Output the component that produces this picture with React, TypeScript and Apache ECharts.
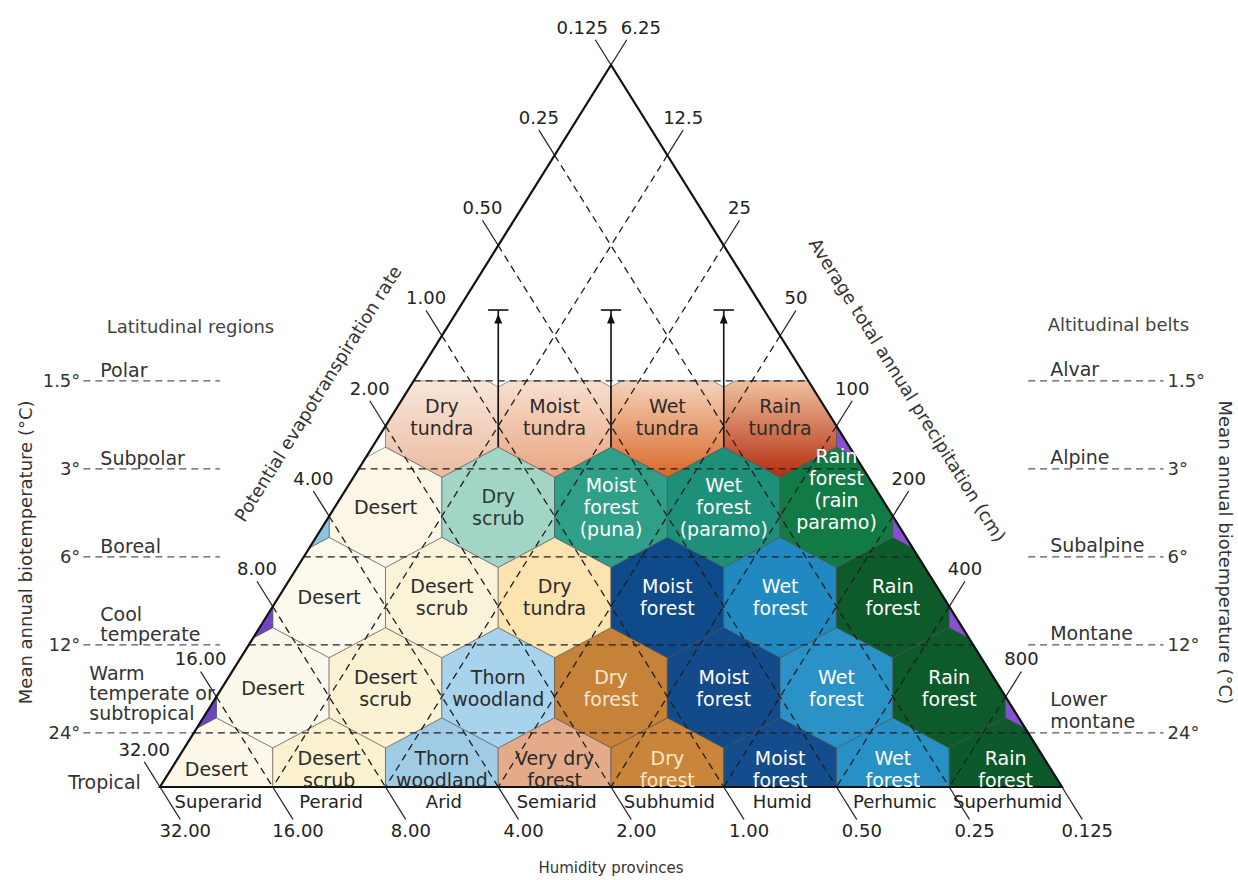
import React, { useEffect, useRef } from "react";
import * as echarts from "echarts";

type P = [number, number];

// ---------------- data ----------------
const humidityProvinces = ["Superarid", "Perarid", "Arid", "Semiarid", "Subhumid", "Humid", "Perhumic", "Superhumid"];
// potential evapotranspiration ratio: left edge (bottom -> apex) and base (left -> right)
const petRatioTicks = ["32.00", "16.00", "8.00", "4.00", "2.00", "1.00", "0.50", "0.25", "0.125"];
// average total annual precipitation (cm): right edge, index = height step (0 unlabeled)
const precipitationTicks = ["", "800", "400", "200", "100", "50", "25", "12.5", "6.25"];
const biotemperatureBelts = ["24°", "12°", "6°", "3°", "1.5°"];
const latitudinalRegions = ["Warm\ntemperate or\nsubtropical", "Cool\ntemperate", "Boreal", "Subpolar", "Polar"];
const altitudinalBelts = ["Lower\nmontane", "Montane", "Subalpine", "Alpine", "Alvar"];
const basalRegion = "Tropical";

const tropicalZones = ["Desert", "Desert\nscrub", "Thorn\nwoodland", "Very dry\nforest", "Dry\nforest", "Moist\nforest", "Wet\nforest", "Rain\nforest"];
const warmTemperateZones = ["Desert", "Desert\nscrub", "Thorn\nwoodland", "Dry\nforest", "Moist\nforest", "Wet\nforest", "Rain\nforest"];
const coolTemperateZones = ["Desert", "Desert\nscrub", "Dry\ntundra", "Moist\nforest", "Wet\nforest", "Rain\nforest"];
const borealZones = ["Desert", "Dry\nscrub", "Moist\nforest\n(puna)", "Wet\nforest\n(paramo)", "Rain\nforest\n(rain\nparamo)"];
const subpolarZones = ["Dry\ntundra", "Moist\ntundra", "Wet\ntundra", "Rain\ntundra"];
const zoneRows = [tropicalZones, warmTemperateZones, coolTemperateZones, borealZones, subpolarZones];

// ---------------- styles ----------------
const zoneFills: (string | string[])[][] = [
  ["#fdf8ea", "#fbf1cf", "#9fcbe5", "#e4ab8a", "#c9853a", "#134d8d", "#2790c5", "#0c5a2b"],
  ["#fdf8ec", "#fbf2d4", "#a8d3ec", "#c58238", "#134b8a", "#2a92c7", "#0d5a2b"],
  ["#fdf9ec", "#fbf3d8", "#fbe4b0", "#0f4a8a", "#2089c2", "#0d5a2b"],
  ["#fcf6e6", "#a3d5c7", "#2f9f88", "#1e9079", "#127a45"],
  [["#f8e6da", "#ebbb9f"], ["#f7dfcf", "#e9a47f"], ["#f5d3bb", "#d9682a"], ["#f0c09e", "#b22e0e"]],
];
const DARK = "#2b2b2b";
const zoneTextColors = [
  [DARK, DARK, DARK, DARK, "#fbe8cc", "#ffffff", "#ffffff", "#ffffff"],
  [DARK, DARK, DARK, "#fbe8cc", "#ffffff", "#ffffff", "#ffffff"],
  [DARK, DARK, DARK, "#ffffff", "#ffffff", "#ffffff"],
  [DARK, "#2b3a35", "#ffffff", "#ffffff", "#ffffff"],
  [DARK, DARK, DARK, DARK],
];
const edgeLeftFills: (string | null)[] = [null, "#6f45c4", "#6f45c4", "#8dc4e2", null];
const edgeRightFills: (string | null)[] = [null, "#8650d0", "#8650d0", "#8650d0", "#8650d0"];

const FONT = "DejaVu Sans";

// ---------------- geometry (data units: x = province widths, y = hex rows) ----------------
const BASE = humidityProvinces.length;
const HALF = BASE / 2;
const HEIGHT = petRatioTicks.length - 1;
const ROW_OFFSET = 0.1;
const BELT_START = 0.6;
const BELT_STEP = 0.975;
const beltY = (i: number) => BELT_START + BELT_STEP * i;
const TOP_CLIP = beltY(biotemperatureBelts.length - 1);
const leftEdgeX = (y: number) => (y * HALF) / HEIGHT;
const rightEdgeX = (y: number) => BASE - (y * HALF) / HEIGHT;

const X_MIN = -1.41907, X_MAX = 9.56098, Y_MIN = -1.03047, Y_MAX = 8.72022;

const halfPlanes: ((p: P) => number)[] = [
  (p) => p[1],
  (p) => TOP_CLIP - p[1],
  (p) => p[0] - leftEdgeX(p[1]),
  (p) => rightEdgeX(p[1]) - p[0],
];

function clipPoly(poly: P[]): P[] {
  let out = poly;
  for (const f of halfPlanes) {
    const input = out;
    out = [];
    for (let i = 0; i < input.length; i++) {
      const a = input[i];
      const b = input[(i + 1) % input.length];
      const fa = f(a), fb = f(b);
      if (fa >= 0) out.push(a);
      if ((fa >= 0) !== (fb >= 0)) {
        const t = fa / (fa - fb);
        out.push([a[0] + t * (b[0] - a[0]), a[1] + t * (b[1] - a[1])]);
      }
    }
    if (!out.length) break;
  }
  return out;
}

const hex = (cx: number, cy: number): P[] => [
  [cx, cy + 2 / 3], [cx + 0.5, cy + 1 / 3], [cx + 0.5, cy - 1 / 3],
  [cx, cy - 2 / 3], [cx - 0.5, cy - 1 / 3], [cx - 0.5, cy + 1 / 3],
];

interface Cell { x: number; y: number; fill: string | string[]; label?: string; color?: string; row: number }
const cells: Cell[] = [];
zoneRows.forEach((names, r) => {
  const y = r + ROW_OFFSET;
  const x0 = r / 2 + 0.5;
  names.forEach((name, i) => cells.push({ x: x0 + i, y, fill: zoneFills[r][i], label: name, color: zoneTextColors[r][i], row: r }));
  const lf = edgeLeftFills[r];
  const rf = edgeRightFills[r];
  if (lf) cells.push({ x: x0 - 1, y, fill: lf, row: r });
  if (rf) cells.push({ x: x0 + names.length, y, fill: rf, row: r });
});
const labelCells = cells.filter((c) => c.label);

interface Seg { a: P; b: P; color: string; width: number; dash?: number[] }
const TICK_DY = 0.28;
const TICK_DX = (TICK_DY * HALF) / HEIGHT;
const BTICK_DY = 0.36;
const BTICK_DX = (BTICK_DY * HALF) / HEIGHT;
const OUT_L0 = -0.68, OUT_L1 = 0.53, OUT_R0 = 7.7, OUT_R1 = 8.9;

const dashedSegs: Seg[] = [];
for (let h = 1; h < HEIGHT; h++) {
  dashedSegs.push({ a: [leftEdgeX(h), h], b: [2 * leftEdgeX(h), 0], color: "#1e1e1e", width: 1.3, dash: [7, 5] });
  dashedSegs.push({ a: [rightEdgeX(h), h], b: [BASE - 2 * leftEdgeX(h), 0], color: "#1e1e1e", width: 1.3, dash: [7, 5] });
}
biotemperatureBelts.forEach((_, i) => {
  const y = beltY(i);
  dashedSegs.push({ a: [leftEdgeX(y), y], b: [rightEdgeX(y), y], color: "#1e1e1e", width: 1.3, dash: [7, 5] });
  dashedSegs.push({ a: [OUT_L0, y], b: [Math.min(OUT_L1, leftEdgeX(y)), y], color: "#555", width: 1.2, dash: [7, 5] });
  dashedSegs.push({ a: [Math.max(OUT_R0, rightEdgeX(y)), y], b: [OUT_R1, y], color: "#555", width: 1.2, dash: [7, 5] });
});

const solidSegs: Seg[] = [];
petRatioTicks.forEach((_, h) => {
  solidSegs.push({ a: [leftEdgeX(h), h], b: [leftEdgeX(h) - TICK_DX, h + TICK_DY], color: "#222", width: 1.3 });
  solidSegs.push({ a: [2 * leftEdgeX(h), 0], b: [2 * leftEdgeX(h) + BTICK_DX, -BTICK_DY], color: "#222", width: 1.3 });
});
precipitationTicks.forEach((t, h) => {
  if (!t) return;
  solidSegs.push({ a: [rightEdgeX(h), h], b: [rightEdgeX(h) + TICK_DX, h + TICK_DY], color: "#222", width: 1.3 });
});
// arrows on the tundra boundaries
const ARROW_TOP = 5.285;
const topRow = zoneRows.length - 1;
const arrowXs: number[] = [];
for (let i = 1; i < zoneRows[topRow].length; i++) arrowXs.push(topRow / 2 + 0.5 + i - 0.5);
arrowXs.forEach((x) => {
  solidSegs.push({ a: [x, topRow + ROW_OFFSET - 1 / 3], b: [x, ARROW_TOP], color: "#111", width: 1.6 });
  solidSegs.push({ a: [x - 0.09, ARROW_TOP], b: [x + 0.09, ARROW_TOP], color: "#111", width: 1.6 });
});

interface Note { text: string; p: P; align: string; va: string; size: number; color: string; rot?: number | string; lh?: number; dx?: number; dy?: number }
const notes: Note[] = [];
petRatioTicks.forEach((t, h) => {
  notes.push({ text: t, p: [leftEdgeX(h) - TICK_DX, h + TICK_DY], align: "center", va: "bottom", size: 18, color: "#222", dx: h === HEIGHT ? -13 : 0, dy: -2 });
  notes.push({ text: t, p: [2 * leftEdgeX(h) + BTICK_DX, -BTICK_DY], align: "center", va: "top", size: 18, color: "#222", dx: 5, dy: 1 });
});
precipitationTicks.forEach((t, h) => {
  if (!t) return;
  notes.push({ text: t, p: [rightEdgeX(h) + TICK_DX, h + TICK_DY], align: "center", va: "bottom", size: 18, color: "#222", dx: h === HEIGHT ? 14 : 0, dy: -2 });
});
humidityProvinces.forEach((t, i) => {
  notes.push({ text: t, p: [i + 0.5, -0.166], align: "center", va: "middle", size: 18, color: "#222", dx: 2 });
});
biotemperatureBelts.forEach((t, i) => {
  const y = beltY(i);
  notes.push({ text: t, p: [OUT_L0, y], align: "right", va: "middle", size: 18, color: "#333", dx: -3 });
  notes.push({ text: t, p: [OUT_R1, y], align: "left", va: "middle", size: 18, color: "#333", dx: 4 });
  const multi = latitudinalRegions[i].split("\n").length > 2;
  notes.push({ text: latitudinalRegions[i], p: [OUT_L0, y], align: "left", va: "bottom", size: 19, color: "#333", lh: 20, dx: multi ? 6 : 17, dy: multi ? -10 : -1 });
  notes.push({ text: altitudinalBelts[i], p: [OUT_R0, y], align: "left", va: "bottom", size: 19, color: "#333", lh: 22, dx: 22, dy: -1 });
});
notes.push({ text: basalRegion, p: [OUT_L0, 0.055], align: "left", va: "middle", size: 19, color: "#333", dx: -15 });
notes.push({ text: "Latitudinal regions", p: [0.27, 5.1], align: "center", va: "middle", size: 18, color: "#444" });
notes.push({ text: "Altitudinal belts", p: [8.5, 5.12], align: "center", va: "middle", size: 18, color: "#444" });
notes.push({ text: "Humidity provinces", p: [HALF, -0.9], align: "center", va: "middle", size: 15, color: "#333" });
notes.push({ text: "Potential evapotranspiration rate", p: [1.4, 4.36], align: "center", va: "middle", size: 18, color: "#333", rot: "left" });
notes.push({ text: "Average total annual precipitation (cm)", p: [6.63, 4.4], align: "center", va: "middle", size: 18, color: "#333", rot: "right" });
notes.push({ text: "Mean annual biotemperature (°C)", p: [-1.19, 2.6], align: "center", va: "middle", size: 18, color: "#333", rot: Math.PI / 2 });
notes.push({ text: "Mean annual biotemperature (°C)", p: [9.446, 2.6], align: "center", va: "middle", size: 18, color: "#333", rot: -Math.PI / 2 });

function fillOf(f: string | string[]) {
  if (Array.isArray(f)) {
    return new echarts.graphic.LinearGradient(0, 0, 0, 1, [
      { offset: 0, color: f[0] },
      { offset: 1, color: f[1] },
    ]);
  }
  return f;
}

function segEl(api: any, s: Seg) {
  const a = api.coord(s.a), b = api.coord(s.b);
  return {
    type: "line",
    shape: { x1: a[0], y1: a[1], x2: b[0], y2: b[1] },
    style: { stroke: s.color, lineWidth: s.width, lineDash: s.dash || null },
  };
}

function buildOption(): any {
  return {
    animation: false,
    backgroundColor: "#ffffff",
    grid: { left: 0, right: 0, top: 0, bottom: 0, containLabel: false, outerBoundsMode: "none" },
    xAxis: { type: "value", min: X_MIN, max: X_MAX, show: false },
    yAxis: { type: "value", min: Y_MIN, max: Y_MAX, show: false },
    series: [
      {
        type: "custom", name: "zones", coordinateSystem: "cartesian2d", z: 1, clip: false, silent: true,
        data: cells.map((c) => [c.x, c.y]),
        renderItem: (params: any, api: any) => {
          const c = cells[params.dataIndex];
          const poly = clipPoly(hex(c.x, c.y));
          if (poly.length < 3) return { type: "group", children: [] };
          return {
            type: "polygon",
            shape: { points: poly.map((p) => api.coord(p)) },
            style: { fill: fillOf(c.fill), stroke: "rgba(70,70,70,0.55)", lineWidth: 1 },
          };
        },
      },
      {
        type: "custom", name: "grid", coordinateSystem: "cartesian2d", z: 2, clip: false, silent: true,
        data: dashedSegs.map((s) => [s.a[0], s.a[1]]),
        renderItem: (params: any, api: any) => segEl(api, dashedSegs[params.dataIndex]),
      },
      {
        type: "custom", name: "frame", coordinateSystem: "cartesian2d", z: 3, clip: false, silent: true,
        data: [[0, 0]],
        renderItem: (_params: any, api: any) => {
          const children: any[] = solidSegs.map((s) => segEl(api, s));
          const tri = [[0, 0], [BASE, 0], [HALF, HEIGHT]].map((p) => api.coord(p));
          children.push({ type: "polygon", shape: { points: tri }, style: { fill: "none", stroke: "#111", lineWidth: 2.2, lineJoin: "miter" } });
          arrowXs.forEach((x) => {
            const pts = [[x, ARROW_TOP - 0.04], [x + 0.035, ARROW_TOP - 0.15], [x - 0.035, ARROW_TOP - 0.15]].map((p) => api.coord(p));
            children.push({ type: "polygon", shape: { points: pts }, style: { fill: "#111" } });
          });
          return { type: "group", children };
        },
      },
      {
        type: "custom", name: "zoneLabels", coordinateSystem: "cartesian2d", z: 5, clip: false, silent: true,
        data: labelCells.map((c) => [c.x, c.y]),
        renderItem: (params: any, api: any) => {
          const c = labelCells[params.dataIndex];
          const lines = (c.label || "").split("\n").length;
          const ly = c.row === 0 ? 0.2 : c.y + (lines >= 4 ? 0.2 : 0);
          const p = api.coord([c.x, ly]);
          return {
            type: "text", x: p[0], y: p[1],
            style: { text: c.label, fill: c.color, fontSize: 19, fontFamily: FONT, align: "center", verticalAlign: "middle", lineHeight: 22 },
          };
        },
      },
      {
        type: "custom", name: "notes", coordinateSystem: "cartesian2d", z: 5, clip: false, silent: true,
        data: notes.map((n) => [n.p[0], n.p[1]]),
        renderItem: (params: any, api: any) => {
          const n = notes[params.dataIndex];
          const p = api.coord(n.p);
          const b0 = api.coord([0, 0]), ap = api.coord([HALF, HEIGHT]);
          const edgeAngle = Math.atan2(b0[1] - ap[1], ap[0] - b0[0]);
          let rot = 0;
          if (n.rot === "left") rot = edgeAngle;
          else if (n.rot === "right") rot = -edgeAngle;
          else if (typeof n.rot === "number") rot = n.rot;
          return {
            type: "text", x: p[0] + (n.dx || 0), y: p[1] + (n.dy || 0), rotation: rot,
            style: { text: n.text, fill: n.color, fontSize: n.size, fontFamily: FONT, align: n.align, verticalAlign: n.va, lineHeight: n.lh || Math.round(n.size * 1.15) },
          };
        },
      },
    ],
  };
}

export default function App() {
  const ref = useRef<HTMLDivElement>(null);
  useEffect(() => {
    if (!ref.current) return;
    const chart = echarts.init(ref.current, null, { renderer: "svg" });
    chart.setOption(buildOption());
    return () => chart.dispose();
  }, []);
  return (
    <div
      ref={ref}
      style={{ position: "absolute", left: 0, top: 0, width: 1238, height: 880, background: "#fff" }}
    />
  );
}
